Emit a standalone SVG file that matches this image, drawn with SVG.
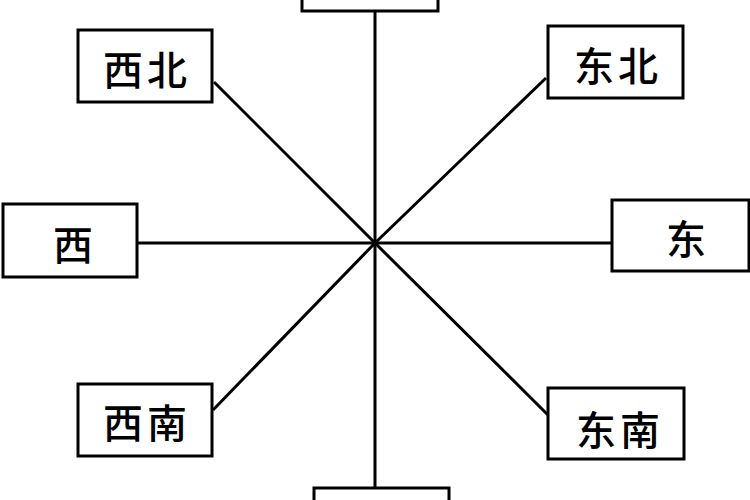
<svg xmlns="http://www.w3.org/2000/svg" width="750" height="500" viewBox="0 0 750 500">
<style>
.box{fill:#fff;stroke:#000;stroke-width:3}
line{stroke:#000;stroke-width:3}
text{font-family:"Noto Sans CJK SC",sans-serif;font-size:40px;font-weight:500;text-anchor:middle;dominant-baseline:central;letter-spacing:4px}
</style>
<rect width="750" height="500" fill="#fff"/>
<g id="connectors">
<line x1="375" y1="10" x2="375" y2="488"/>
<line x1="137" y1="243" x2="612" y2="243"/>
<line x1="214" y1="82" x2="375" y2="243"/>
<line x1="546" y1="78" x2="375" y2="243"/>
<line x1="213" y1="410" x2="375" y2="243"/>
<line x1="548" y1="415" x2="375" y2="243"/>
</g>
<g id="n"><rect class="box" x="302" y="-10" width="136" height="21"/></g>
<g id="s"><rect class="box" x="314" y="488" width="135" height="30"/></g>
<g id="nw"><rect class="box" x="78" y="30" width="134" height="72"/><text x="147" y="68">西北</text></g>
<g id="ne"><rect class="box" x="548" y="26" width="135" height="72"/><text x="618" y="64">东北</text></g>
<g id="w"><rect class="box" x="3" y="204" width="134" height="73"/><text x="75" y="243">西</text></g>
<g id="e"><rect class="box" x="612" y="200" width="137" height="71"/><text x="688" y="237">东</text></g>
<g id="sw"><rect class="box" x="78" y="384" width="134" height="72"/><text x="147" y="421">西南</text></g>
<g id="se"><rect class="box" x="548" y="388" width="136" height="71"/><text x="620" y="428">东南</text></g>
</svg>
